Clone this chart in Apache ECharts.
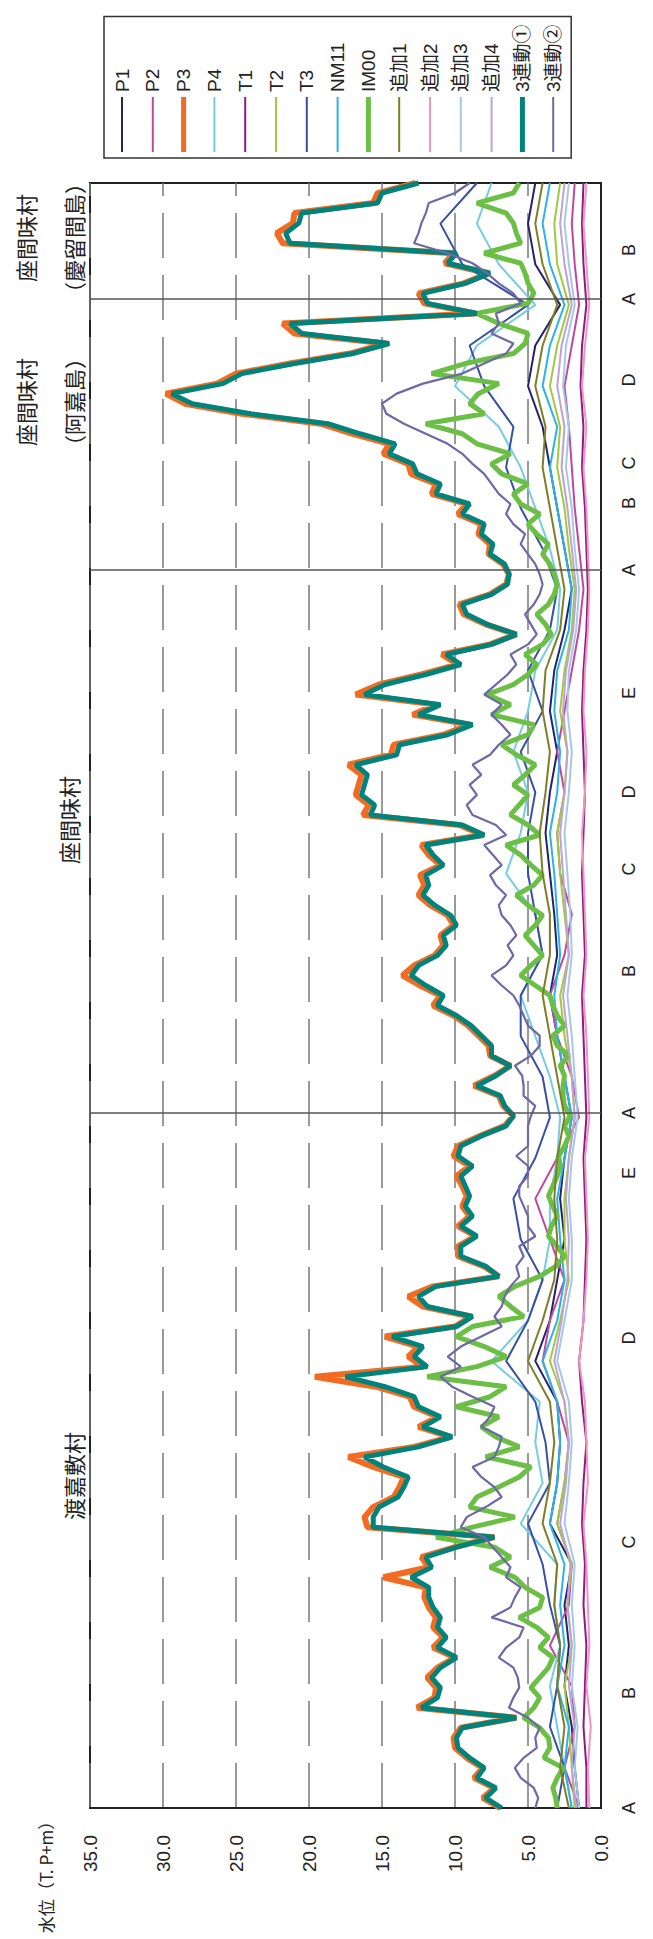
<!DOCTYPE html>
<html><head><meta charset="utf-8">
<script src="https://cdn.jsdelivr.net/npm/echarts@6/dist/echarts.min.js"></script>
<style>
html,body{margin:0;padding:0;background:#fff;}
#wrap{position:absolute;left:0;top:0;width:653px;height:1939px;overflow:hidden;background:#fff;}
#chart{position:absolute;left:0;top:0;width:1939px;height:653px;transform-origin:0 0;transform:rotate(-90deg) translate(-1939px,0);}
</style></head>
<body><div id="wrap"><div id="chart"></div></div>
<script>
// Category (survey point) tick positions along the coast and their labels
const tickPos = [0, 11.5, 26.6, 47.0, 63.5, 69.5, 83.7, 93.9, 101.6, 111.5, 123.8, 130.5, 134.5, 142.8, 150.9, 155.8];
const tickLabels = ['A','B','C','D','E','A','B','C','D','E','A','B','C','D','A','B'];
const sectionBounds = [69.5, 123.8, 150.9];
const span = 162.5;

const seriesNames = ['P1','P2','P3','P4','T1','T2','T3','NM11','IM00','追加1','追加2','追加3','追加4','3連動①','3連動②'];

const P1 = [1.5,1.8,2.0,2.5,2.2,2.5,2.0,3.5,3.0,2.8,3.0,4.5,3.5,3.0,2.5,2.8,2.5,2.0,2.5,3.0,3.5,3.0,3.2,3.5,3.8,3.5,3.0,3.5,3.2,2.5,2.0,2.5,3.0,3.5,4.0,5.0,4.5,2.8,4.5,5.0,4.5];
const P2 = [1.5,2.5,1.8,2.0,3.5,2.2,2.0,3.0,2.5,2.2,3.0,4.0,3.5,2.5,3.5,4.5,3.0,1.5,2.0,3.0,3.5,2.5,2.0,2.8,3.0,2.5,3.0,2.5,2.0,1.5,1.2,1.5,1.8,2.0,2.2,2.5,2.0,1.5,1.8,2.0,1.8];
const P3 = [6.9,8.1,7.3,8.7,8.1,9.2,10.0,10.1,9.6,5.8,
12.6,11.4,11.3,11.9,11.2,10.0,11.5,10.8,11.5,11.3,
11.8,12.1,12.0,14.9,11.8,12.3,10.0,7.3,16.0,16.2,
15.6,14.2,13.8,13.5,15.6,17.3,12.8,10.3,12.5,11.2,
12.8,13.1,15.4,19.6,12.2,13.2,12.5,14.8,10.0,8.9,
12.2,13.2,11.5,7.0,8.0,9.8,9.8,8.6,9.8,9.0,
9.5,9.2,9.5,9.9,9.0,10.1,9.8,8.3,6.6,6.0,
6.7,7.0,8.7,7.3,6.2,7.6,7.7,8.4,9.1,10.1,
11.5,11.0,12.4,13.6,12.8,11.4,10.8,11.0,10.1,10.5,
11.7,12.5,12.1,12.4,11.0,11.8,12.3,8.1,9.7,16.3,
15.9,16.8,16.6,16.4,17.3,14.4,14.2,10.8,9.0,12.9,
11.3,16.8,15.2,12.3,9.8,10.9,7.6,5.8,7.9,9.4,
9.7,7.6,6.5,6.3,6.7,7.7,7.6,8.4,8.2,9.8,
9.2,11.6,11.3,13.0,13.2,14.9,14.5,17.0,19.2,24.6,
28.5,29.8,26.3,25.0,21.3,17.2,14.7,21.0,21.8,8.6,
12.1,12.5,9.4,7.7,10.7,10.1,21.8,22.2,21.1,21.0,
15.6,15.3,12.7];
const P4 = [2.0,2.5,3.0,3.5,2.8,3.2,3.0,5.5,4.0,4.5,4.2,7.5,5.0,4.0,3.5,3.5,3.0,2.8,3.5,4.5,5.5,4.0,4.5,6.5,5.5,5.0,6.0,5.0,4.5,3.0,2.8,3.5,4.5,5.5,7.0,10.0,8.5,4.5,7.0,8.5,7.5];
const T1 = [1.0,1.0,1.2,1.1,1.0,1.2,1.1,1.3,1.2,1.0,1.3,1.5,1.2,1.1,1.0,1.1,1.2,1.0,1.1,1.2,1.3,1.1,1.2,1.3,1.2,1.1,1.2,1.3,1.2,1.0,0.9,1.0,1.1,1.3,1.2,1.4,1.3,1.0,1.2,1.3,1.2];
const T2 = [1.8,2.0,2.2,2.5,2.0,2.3,2.0,3.0,2.5,2.2,2.5,3.5,2.8,2.2,2.5,2.5,2.2,1.8,2.0,2.5,2.8,2.2,2.5,2.8,3.0,2.5,2.3,2.8,2.5,2.0,1.8,2.2,2.5,3.0,2.8,3.5,3.0,2.2,3.0,3.2,2.8];
const T3 = [3.0,2.5,3.5,3.0,2.8,3.5,4.0,5.0,3.5,3.8,4.5,6.5,5.0,4.0,5.5,6.0,4.5,3.5,4.0,5.5,5.5,4.0,4.5,5.0,5.0,4.5,5.5,4.0,5.0,3.5,3.0,4.0,5.5,6.5,6.0,8.0,9.0,5.0,9.5,11.0,8.5];
const NM11 = [2.0,2.5,2.2,3.0,2.5,2.8,2.5,3.5,3.0,2.8,3.0,4.0,3.0,2.5,2.8,3.0,2.5,2.0,2.5,3.0,3.2,2.8,3.0,3.2,3.5,3.0,2.8,3.2,3.0,2.2,2.0,2.5,3.0,3.5,3.0,4.0,3.5,2.5,3.5,4.0,3.5];
const IM00 = [3.0,3.1,3.3,3.0,2.6,3.9,3.5,3.6,4.2,5.3,
4.6,4.2,4.8,4.2,3.6,3.3,4.2,3.6,4.4,5.6,
4.2,4.0,5.2,5.9,7.6,6.2,7.3,11.3,8.8,5.9,
9.0,8.5,7.0,5.6,4.8,7.9,5.6,7.2,8.2,7.0,
9.9,7.6,6.5,11.9,8.5,6.5,8.0,9.9,8.8,5.3,
6.2,7.0,5.9,4.2,3.1,2.5,3.0,3.6,3.4,3.0,
3.3,3.6,3.3,3.0,2.8,2.9,2.5,2.2,2.5,2.1,
2.5,2.6,2.6,2.5,2.8,2.2,3.0,3.3,2.5,3.0,
3.3,3.5,4.5,5.5,4.8,4.0,4.6,5.2,4.5,4.0,
5.0,5.8,4.6,4.0,4.8,5.5,6.5,4.2,5.0,6.2,
5.6,5.0,6.0,5.2,4.5,5.8,6.8,5.0,4.6,7.5,
6.2,7.8,6.0,5.0,4.4,5.2,4.0,3.4,3.8,4.4,
3.6,3.2,3.0,3.2,3.5,4.0,3.6,4.4,5.0,4.2,
5.5,6.0,5.0,6.8,7.5,6.2,8.5,9.5,12.0,8.0,
9.0,8.4,7.0,11.6,9.3,6.0,5.2,5.0,7.0,8.5,
5.0,4.6,5.0,5.2,5.5,8.0,5.5,5.8,6.0,6.5,
8.5,6.0,5.6];
const ADD1 = [2.2,2.8,2.5,3.0,2.8,3.2,3.0,4.0,3.5,3.2,3.5,5.0,4.0,3.2,3.0,3.2,3.0,2.5,3.0,3.5,4.0,3.5,3.5,4.0,4.2,3.8,3.5,4.0,3.8,2.8,2.5,3.0,3.5,4.0,3.8,4.5,4.0,3.0,4.0,4.5,4.0];
const ADD2 = [0.8,0.9,0.7,1.0,0.8,0.9,1.0,1.2,0.9,1.0,1.1,1.5,1.2,1.0,0.9,1.0,1.1,0.8,0.9,1.0,1.2,1.0,1.1,1.2,1.3,1.1,1.0,1.2,1.1,0.9,0.8,0.9,1.0,1.2,1.0,1.3,1.1,0.8,1.0,1.2,1.0];
const ADD3 = [1.5,1.8,1.6,2.0,1.8,2.0,1.8,2.5,2.2,2.0,2.2,3.0,2.5,2.0,2.0,2.2,2.0,1.6,1.8,2.0,2.3,2.0,2.1,2.3,2.5,2.2,2.0,2.3,2.2,1.7,1.5,1.8,2.0,2.4,2.2,2.6,2.4,1.8,2.2,2.5,2.2];
const ADD4 = [1.7,2.0,1.8,2.2,2.0,2.3,2.1,2.8,2.4,2.2,2.5,3.2,2.7,2.3,2.2,2.4,2.2,1.8,2.0,2.3,2.6,2.2,2.4,2.6,2.8,2.5,2.3,2.6,2.4,1.9,1.7,2.0,2.3,2.7,2.5,3.0,2.7,2.0,2.5,2.8,2.5];
const REN1 = [6.8,7.9,7.2,8.5,8.0,9.0,9.8,9.9,9.5,5.8,
12.3,11.2,11.0,11.6,11.0,9.9,11.2,10.6,11.2,11.0,
11.5,11.8,11.8,13.0,11.6,12.0,9.9,7.3,15.6,15.6,
15.2,13.9,13.5,13.2,14.9,16.2,12.5,10.2,12.2,11.0,
12.5,12.8,14.8,17.5,11.9,12.8,12.2,14.3,9.9,8.8,
11.9,12.5,11.3,7.0,7.9,9.6,9.6,8.5,9.6,8.8,
9.3,9.0,9.3,9.6,8.8,9.8,9.6,8.2,6.5,6.0,
6.6,6.9,8.5,7.2,6.2,7.5,7.5,8.2,8.9,9.9,
11.2,10.8,12.0,13.0,12.5,11.2,10.6,10.8,9.9,10.3,
11.4,12.2,11.8,12.0,10.8,11.5,12.0,8.0,9.5,15.8,
15.5,16.4,16.2,16.0,16.8,14.0,13.8,10.5,8.8,12.5,
11.0,16.2,14.8,12.0,9.6,10.6,7.5,5.8,7.8,9.2,
9.5,7.5,6.4,6.3,6.6,7.6,7.4,8.2,8.0,9.5,
9.0,11.3,11.0,12.6,12.9,14.5,14.1,16.5,18.7,24.0,
28.0,29.4,25.9,24.6,21.0,17.0,14.5,20.5,21.3,8.5,
11.9,12.2,9.3,7.6,10.5,9.9,21.3,21.6,20.7,20.5,
15.3,15.0,12.5];
const REN2 = [4.5,4.3,4.6,5.5,5.9,5.3,4.4,4.5,4.2,5.0,
6.3,6.0,5.6,5.7,6.0,7.0,6.5,5.6,5.3,7.5,
6.2,5.9,5.5,6.5,6.2,6.8,7.4,8.0,9.6,9.2,
7.9,6.8,7.3,8.2,8.8,7.3,7.0,6.8,8.2,7.6,
7.3,8.8,10.2,11.0,9.6,10.5,9.6,8.2,6.8,7.3,
6.8,6.6,6.2,5.6,5.8,5.3,5.6,4.5,5.0,5.0,
5.3,5.6,5.6,5.0,5.0,5.8,5.0,5.0,5.0,4.8,
4.5,5.3,5.3,5.4,5.9,4.8,4.2,4.2,5.0,5.3,
5.6,6.0,6.8,7.5,6.5,6.0,6.4,5.8,6.2,6.8,
7.0,6.5,7.2,7.6,6.8,7.4,8.0,6.5,7.2,8.8,
9.2,8.5,9.0,8.2,8.8,7.6,7.0,6.2,6.8,7.5,
6.8,8.0,7.2,6.4,5.8,6.2,5.0,4.4,4.8,5.2,
4.6,4.2,4.0,4.2,4.5,5.0,5.5,5.2,6.0,6.5,
6.2,7.0,7.5,8.0,8.8,9.5,10.5,12.0,13.5,14.7,
15.0,14.0,12.2,9.5,8.0,6.5,6.0,7.5,7.0,7.2,
5.5,6.0,7.0,7.8,8.8,10.5,12.8,12.5,12.3,12.0,
11.8,10.0,9.0];

const seriesData = [P1,P2,P3,P4,T1,T2,T3,NM11,IM00,ADD1,ADD2,ADD3,ADD4,REN1,REN2];
const colors = ['#23226e','#c0479c','#f26b21','#74cde3','#8b1c84','#9fcb3b','#3550a5','#29b4e6','#6cbf45','#7f7d25','#f293c0','#a6c8e8','#bda2d2','#00837a','#6d68a8'];
const widths = [2,2,6,2,2,2,2,2,5,2,2,2,2,5,2.2];

const FONT = "'Liberation Sans', 'Noto Sans CJK JP', sans-serif";
const JFONT = "'Noto Sans CJK JP', sans-serif";

function pairs(arr){
  const n = arr.length;
  return arr.map((v,i)=>[i*span/(n-1), v]);
}
// legend line sample: a horizontal strip centred in a 55x20 box
function legendIcon(w){
  const a = (10 - w/2).toFixed(2), b = (10 + w/2).toFixed(2);
  return 'path://M0,0L0.01,0L0.01,0.01Z M0,'+a+'L55,'+a+'L55,'+b+'L0,'+b+'Z M54.99,20L55,20L55,19.99Z';
}

const series = seriesNames.map((name, k) => ({
  name, type:'line', data: pairs(seriesData[k]), symbol:'none', showSymbol:false, smooth:false,
  lineStyle:{color:colors[k], width:widths[k]}, itemStyle:{color:colors[k]},
  animation:false, silent:true
}));
series[0].markLine = {
  silent:true, symbol:'none', label:{show:false},
  lineStyle:{color:'#555', width:1.5, type:'solid'},
  data: sectionBounds.map(v=>({xAxis:v}))
};

const chart = echarts.init(document.getElementById('chart'), null, {renderer:'svg', width:1939, height:653});
chart.setOption({
  animation:false,
  backgroundColor:'#fff',
  color: colors,
  grid:{left:131, right:183, top:90, bottom:52, show:true, borderColor:'#222', borderWidth:2, backgroundColor:'transparent'},
  xAxis:{
    type:'value', min:0, max:span,
    axisLine:{show:true, lineStyle:{color:'#222', width:2}},
    axisTick:{show:false},
    splitLine:{show:false},
    axisLabel:{
      customValues: tickPos,
      formatter: (v)=>{ const i = tickPos.indexOf(v); return i>=0 ? tickLabels[i] : ''; },
      fontSize:18, color:'#222', margin:19, fontFamily:FONT, hideOverlap:false
    }
  },
  yAxis:{
    type:'value', min:0, max:35, interval:5,
    axisLine:{show:true, lineStyle:{color:'#222', width:2}},
    axisTick:{show:false},
    splitLine:{show:true, lineStyle:{color:'#7a7a7a', width:1.5, type:[45,17]}},
    axisLabel:{formatter:(v)=>v.toFixed(1), fontSize:19, color:'#222', margin:27, fontFamily:FONT}
  },
  legend:{
    data: seriesNames.map((n,k)=>({name:n, icon:legendIcon(widths[k]>=5 ? 5 : 2)})),
    orient:'vertical', left:1781, top:104,
    itemWidth:55, itemHeight:20, itemGap:10.8,
    textStyle:{fontSize:19, color:'#222', fontFamily:FONT},
    borderColor:'#333', borderWidth:1.5, padding:[8,8,8,6]
  },
  graphic:[
    {type:'text', x:463, y:73, style:{text:'渡嘉敷村', font:'22px '+JFONT, fill:'#222', align:'center', verticalAlign:'middle'}},
    {type:'text', x:1119, y:68, style:{text:'座間味村', font:'22px '+JFONT, fill:'#222', align:'center', verticalAlign:'middle'}},
    {type:'text', x:1537, y:25, style:{text:'座間味村', font:'22px '+JFONT, fill:'#222', align:'center', verticalAlign:'middle'}},
    {type:'text', x:1537, y:73, style:{text:'（阿嘉島）', font:'22px '+JFONT, fill:'#222', align:'center', verticalAlign:'middle'}},
    {type:'text', x:1701, y:25, style:{text:'座間味村', font:'22px '+JFONT, fill:'#222', align:'center', verticalAlign:'middle'}},
    {type:'text', x:1701, y:73, style:{text:'（慶留間島）', font:'22px '+JFONT, fill:'#222', align:'center', verticalAlign:'middle'}},
    {type:'text', x:66, y:45, style:{text:'水位（T. P+m）', font:'17px '+JFONT, fill:'#222', align:'center', verticalAlign:'middle'}}
  ],
  series
});
</script></body></html>
